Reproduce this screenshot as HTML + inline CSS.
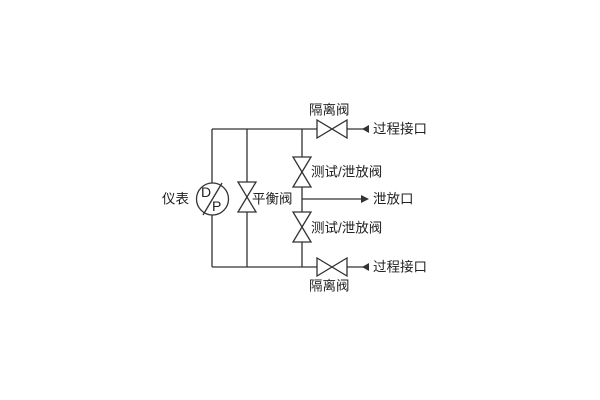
<!DOCTYPE html>
<html><head><meta charset="utf-8"><style>
html,body{margin:0;padding:0;background:#fff;width:600px;height:400px;overflow:hidden}
svg text{font-family:"Liberation Sans","Noto Sans CJK SC",sans-serif;font-size:13.5px;fill:#222;dominant-baseline:central}
</style></head><body>
<svg width="600" height="400" viewBox="0 0 600 400">
<g stroke="#333" stroke-width="1.3" fill="none">
<line x1="212" y1="129" x2="317" y2="129"/>
<line x1="212" y1="267" x2="317" y2="267"/>
<line x1="212" y1="129" x2="212" y2="183"/>
<line x1="212" y1="215" x2="212" y2="267"/>
<line x1="247" y1="129" x2="247" y2="267"/>
<line x1="302" y1="129" x2="302" y2="267"/>
<line x1="302" y1="199" x2="362" y2="199"/>
<line x1="347" y1="129" x2="364" y2="129"/>
<line x1="347" y1="267" x2="364" y2="267"/>
<circle cx="212.5" cy="199" r="16" fill="#fff"/>
<line x1="203" y1="215" x2="222" y2="183"/>
<polygon points="317,120 317,138 347,120 347,138" fill="#fff"/>
<polygon points="317,258 317,276 347,258 347,276" fill="#fff"/>
<polygon points="238,182 256,182 238,212 256,212" fill="#fff"/>
<polygon points="293,157 311,157 293,187 311,187" fill="#fff"/>
<polygon points="293,212 311,212 293,242 311,242" fill="#fff"/>
</g>
<g fill="#333">
<polygon points="362,129 369,125 369,133"/>
<polygon points="362,267 369,263 369,271"/>
<polygon points="369,199 361,195 361,203"/>
</g>
<text x="201" y="192" style="font-size:14px">D</text>
<text x="212" y="206" style="font-size:14px">P</text>
<text x="309" y="110">隔离阀</text>
<text x="309" y="286">隔离阀</text>
<text x="373" y="129">过程接口</text>
<text x="373" y="267">过程接口</text>
<text x="373" y="199">泄放口</text>
<text x="311" y="172">测试/泄放阀</text>
<text x="311" y="228">测试/泄放阀</text>
<text x="252" y="199">平衡阀</text>
<text x="162" y="199">仪表</text>
</svg>
</body></html>
